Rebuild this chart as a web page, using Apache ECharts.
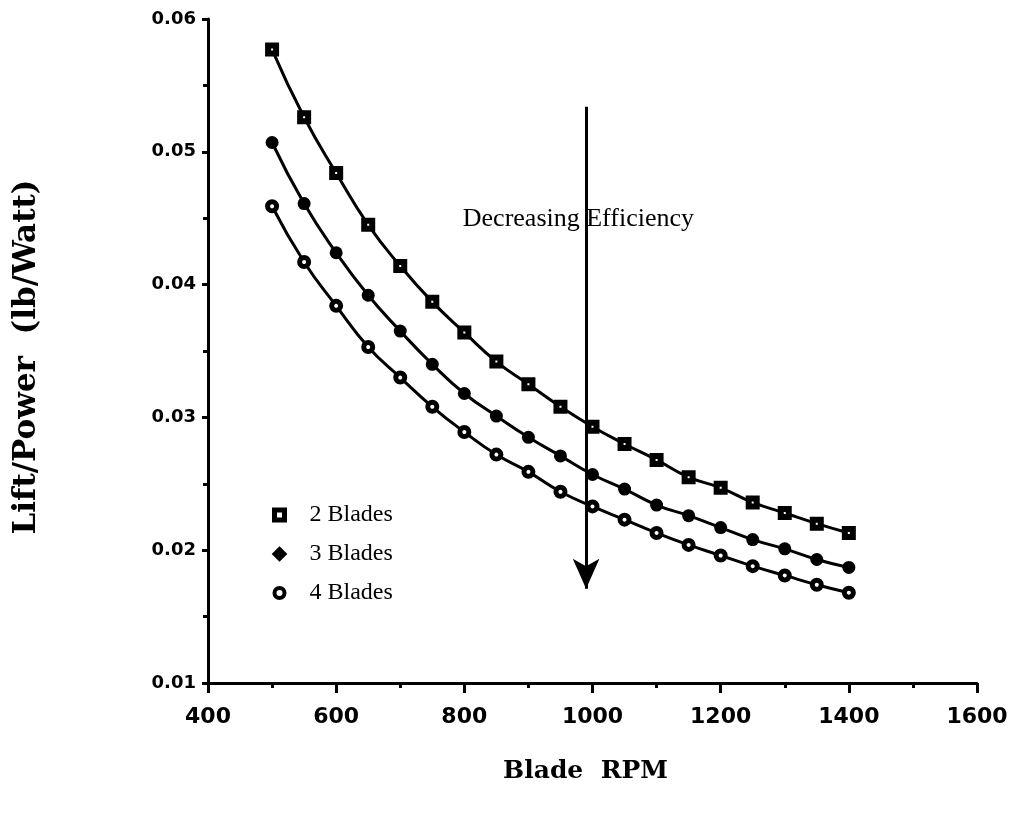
<!DOCTYPE html>
<html>
<head>
<meta charset="utf-8">
<script src="https://cdn.jsdelivr.net/npm/echarts@6/dist/echarts.min.js"></script>
<style>html,body{margin:0;padding:0;background:#fff}#chart{width:1012px;height:813px}</style>
</head>
<body>
<div id="chart"></div>
<script>
const rpm = [500,550,600,650,700,750,800,850,900,950,1000,1050,1100,1150,1200,1250,1300,1350,1400];
const blades2 = [0.0577,0.0526,0.0484,0.0445,0.0414,0.0387,0.0364,0.0342,0.0325,0.0308,0.0293,0.0280,0.0268,0.0255,0.0247,0.0236,0.0228,0.0220,0.0213];
const blades3 = [0.0507,0.0461,0.0424,0.0392,0.0365,0.0340,0.0318,0.0301,0.0285,0.0271,0.0257,0.0246,0.0234,0.0226,0.0217,0.0208,0.0201,0.0193,0.0187];
const blades4 = [0.0459,0.0417,0.0384,0.0353,0.0330,0.0308,0.0289,0.0272,0.0259,0.0244,0.0233,0.0223,0.0213,0.0204,0.0196,0.0188,0.0181,0.0174,0.0168];
const seriesNames = ['2 Blades','3 Blades','4 Blades'];
const arrowStart = [990, 0.0534];
const arrowEnd = [990, 0.0171];
const annotation = {text: 'Decreasing Efficiency', coord: [978, 0.0449]};

const pair = (ys) => rpm.map((x, i) => [x, ys[i]]);
const serif = '"Liberation Serif","DejaVu Serif",serif';
const wideSerif = '"DejaVu Serif",serif';
const sans = '"DejaVu Sans",sans-serif';

const chart = echarts.init(document.getElementById('chart'));
chart.setOption({
  animation: false,
  backgroundColor: '#fff',
  grid: {left: 208, right: 35, top: 19, bottom: 130},
  legend: {
    orient: 'vertical', left: 267, top: 498, itemGap: 15,
    itemWidth: 10, itemHeight: 10,
    textStyle: {fontFamily: serif, fontSize: 24, color: '#000', padding: [0,0,0,20]},
    data: [
      {name: seriesNames[0], icon: 'rect', itemStyle: {color: '#fff', borderColor: '#000', borderWidth: 5}},
      {name: seriesNames[1], icon: 'diamond', itemStyle: {color: '#000', borderColor: '#000', borderWidth: 4}},
      {name: seriesNames[2], icon: 'circle', itemStyle: {color: '#fff', borderColor: '#000', borderWidth: 4}}
    ]
  },
  xAxis: {
    type: 'value', min: 400, max: 1600, interval: 200,
    name: 'Blade  RPM', nameLocation: 'middle', nameGap: 76,
    nameTextStyle: {fontFamily: wideSerif, fontWeight: 'bold', fontSize: 25, color: '#000', padding: [0,14,0,0]},
    axisLine: {show: true, lineStyle: {color: '#000', width: 3}},
    axisTick: {show: true, length: 10, lineStyle: {color: '#000', width: 3}},
    minorTick: {show: true, splitNumber: 2, length: 5, lineStyle: {color: '#000', width: 3}},
    splitLine: {show: false},
    axisLabel: {fontFamily: sans, fontWeight: 'bold', fontSize: 22, color: '#000', margin: 23,
      formatter: (v) => String(v)}
  },
  yAxis: {
    type: 'value', min: 0.01, max: 0.06, interval: 0.01,
    name: 'Lift/Power  (lb/Watt)', nameLocation: 'middle', nameGap: 166,
    nameTextStyle: {fontFamily: wideSerif, fontWeight: 'bold', fontSize: 31, color: '#000', padding: [0,12,0,0]},
    axisLine: {show: true, lineStyle: {color: '#000', width: 3}},
    axisTick: {show: true, length: 6, lineStyle: {color: '#000', width: 3}},
    minorTick: {show: true, splitNumber: 2, length: 5, lineStyle: {color: '#000', width: 3}},
    splitLine: {show: false},
    axisLabel: {fontFamily: sans, fontWeight: 'bold', fontSize: 18, color: '#000', margin: 12,
      formatter: (v) => v.toFixed(2)}
  },
  series: [
    {
      name: seriesNames[0], type: 'line', smooth: true, data: pair(blades2),
      symbol: 'rect', symbolSize: 8, showAllSymbol: true,
      itemStyle: {color: '#fff', borderColor: '#000', borderWidth: 6},
      lineStyle: {color: '#000', width: 3},
      markLine: {
        silent: true, symbol: ['none', 'arrow'], symbolSize: 24,
        label: {show: false},
        lineStyle: {color: '#000', width: 3, type: 'solid'},
        data: [[{coord: arrowStart}, {coord: arrowEnd, symbol: 'arrow', symbolSize: [20, 30]}]]
      },
      markPoint: {
        silent: true, symbol: 'circle', symbolSize: 0,
        data: [{coord: annotation.coord, value: annotation.text}],
        label: {show: true, position: 'inside', formatter: annotation.text,
          fontFamily: serif, fontSize: 26, color: '#000'}
      }
    },
    {
      name: seriesNames[1], type: 'line', smooth: true, data: pair(blades3),
      symbol: 'circle', symbolSize: 13, showAllSymbol: true,
      itemStyle: {color: '#000', borderColor: '#000', borderWidth: 0},
      lineStyle: {color: '#000', width: 3}
    },
    {
      name: seriesNames[2], type: 'line', smooth: true, data: pair(blades4),
      symbol: 'circle', symbolSize: 9, showAllSymbol: true,
      itemStyle: {color: '#fff', borderColor: '#000', borderWidth: 5},
      lineStyle: {color: '#000', width: 3}
    }
  ]
});
</script>
</body>
</html>
